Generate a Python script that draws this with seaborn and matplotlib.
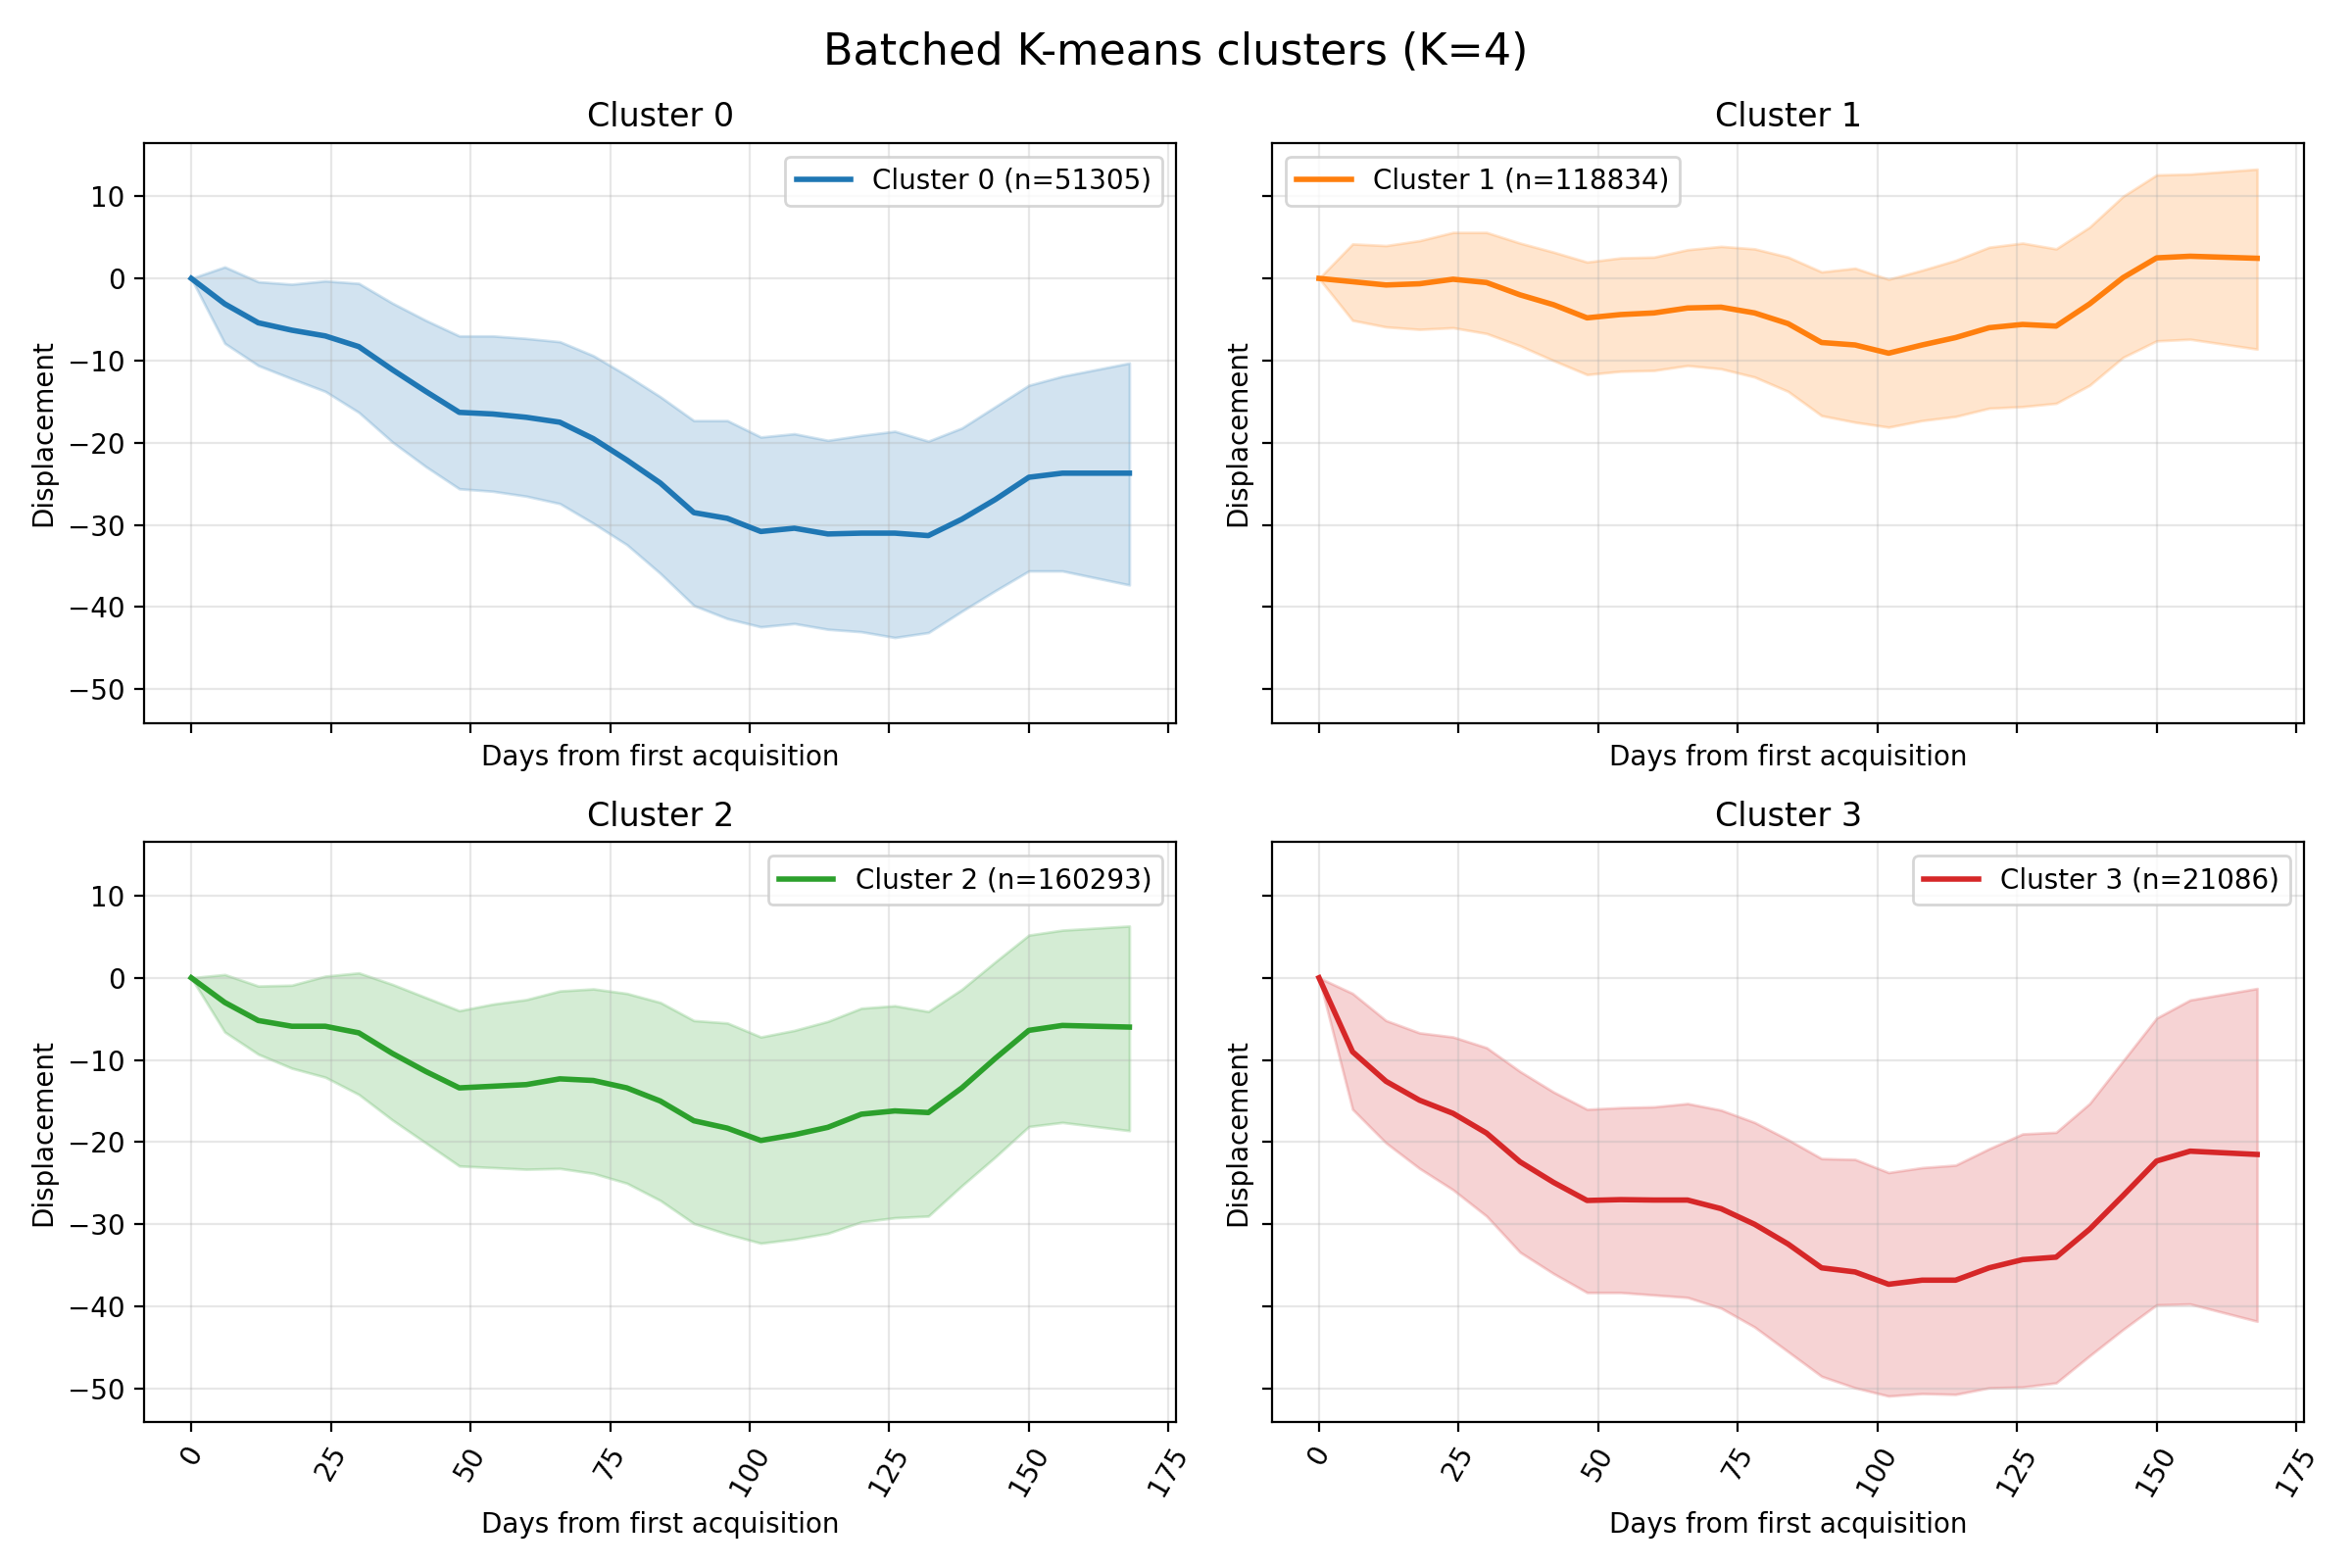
import numpy as np
import pandas as pd
import matplotlib
matplotlib.use("Agg")
import matplotlib.pyplot as plt
import seaborn as sns

days = [0, 6, 12, 18, 24, 30, 36, 42, 48, 54, 60, 66, 72, 78, 84, 90, 96, 102,
        108, 114, 120, 126, 132, 138, 144, 150, 156, 168]

cluster_names = ["Cluster 0", "Cluster 1", "Cluster 2", "Cluster 3"]
cluster_sizes = [51305, 118834, 160293, 21086]
colors = ["#1f77b4", "#ff7f0e", "#2ca02c", "#d62728"]

mean0 = [0, -3.1, -5.4, -6.3, -7.0, -8.3, -11.1, -13.75, -16.3, -16.5, -16.9, -17.5, -19.5, -22.1,
         -24.9, -28.5, -29.2, -30.8, -30.4, -31.1, -31.0, -31.0, -31.3, -29.3, -26.9, -24.2, -23.7, -23.7]
upper0 = [0, 1.4, -0.4, -0.7, -0.3, -0.6, -3.0, -5.1, -7.0, -7.0, -7.3, -7.7, -9.4, -11.8,
          -14.4, -17.3, -17.3, -19.3, -18.9, -19.7, -19.1, -18.6, -19.8, -18.2, -15.6, -13.0, -11.9, -10.3]
lower0 = [0, -7.9, -10.6, -12.2, -13.75, -16.3, -19.9, -22.9, -25.6, -25.9, -26.5, -27.4, -29.8, -32.4,
          -35.9, -39.8, -41.4, -42.4, -42.0, -42.7, -43.0, -43.7, -43.1, -40.5, -38.0, -35.6, -35.6, -37.3]

mean1 = [0, -0.4, -0.8, -0.65, -0.1, -0.5, -2.0, -3.2, -4.8, -4.4, -4.2, -3.6, -3.5, -4.2,
         -5.5, -7.8, -8.1, -9.1, -8.1, -7.2, -6.0, -5.6, -5.8, -3.1, 0.1, 2.5, 2.7, 2.45]
upper1 = [0, 4.2, 4.0, 4.6, 5.6, 5.6, 4.3, 3.2, 2.0, 2.5, 2.6, 3.5, 3.9, 3.6,
          2.6, 0.8, 1.25, -0.1, 1.0, 2.2, 3.8, 4.3, 3.6, 6.25, 10.0, 12.6, 12.7, 13.3]
lower1 = [0, -5.1, -5.9, -6.2, -6.0, -6.7, -8.2, -10.0, -11.7, -11.3, -11.2, -10.6, -11.0, -12.0,
          -13.75, -16.7, -17.5, -18.1, -17.3, -16.8, -15.8, -15.6, -15.2, -13.0, -9.6, -7.6, -7.4, -8.6]

mean2 = [0, -3.0, -5.2, -5.9, -5.9, -6.7, -9.2, -11.4, -13.4, -13.2, -13.0, -12.3, -12.5, -13.4,
         -15.0, -17.4, -18.3, -19.8, -19.1, -18.2, -16.6, -16.2, -16.4, -13.4, -9.8, -6.4, -5.8, -6.0]
upper2 = [0, 0.4, -1.0, -0.9, 0.2, 0.6, -0.8, -2.4, -4.0, -3.2, -2.65, -1.6, -1.35, -1.9,
          -3.0, -5.2, -5.5, -7.2, -6.4, -5.3, -3.7, -3.4, -4.1, -1.4, 1.95, 5.2, 5.8, 6.3]
lower2 = [0, -6.6, -9.3, -11.0, -12.1, -14.2, -17.3, -20.1, -22.9, -23.1, -23.3, -23.2, -23.8, -25.0,
          -27.1, -29.9, -31.2, -32.3, -31.8, -31.1, -29.7, -29.2, -29.0, -25.3, -21.8, -18.1, -17.6, -18.6]

mean3 = [0, -9.0, -12.6, -14.9, -16.5, -18.9, -22.4, -24.9, -27.1, -27.0, -27.05, -27.05, -28.1, -30.0,
         -32.4, -35.3, -35.8, -37.3, -36.8, -36.8, -35.3, -34.3, -34.0, -30.6, -26.5, -22.3, -21.1, -21.5]
upper3 = [0, -1.9, -5.2, -6.7, -7.2, -8.5, -11.4, -13.9, -16.0, -15.8, -15.7, -15.3, -16.1, -17.6,
          -19.7, -22.0, -22.1, -23.7, -23.1, -22.8, -20.8, -19.0, -18.8, -15.3, -10.1, -4.9, -2.7, -1.3]
lower3 = [0, -16.0, -20.1, -23.2, -25.8, -29.0, -33.4, -36.0, -38.3, -38.3, -38.6, -38.9, -40.2, -42.5,
          -45.5, -48.5, -49.9, -50.9, -50.6, -50.7, -49.9, -49.8, -49.3, -46.0, -42.8, -39.8, -39.7, -41.8]

means = [mean0, mean1, mean2, mean3]
uppers = [upper0, upper1, upper2, upper3]
lowers = [lower0, lower1, lower2, lower3]

plt.rcParams['font.family'] = ['DejaVu Sans']

fig, axes = plt.subplots(2, 2, figsize=(12, 8), dpi=200, sharex=True, sharey=True)

for i, ax in enumerate(axes.flat):
    df = pd.DataFrame({"day": days, "disp": means[i]})
    label = f"{cluster_names[i]} (n={cluster_sizes[i]})"
    sns.lineplot(data=df, x="day", y="disp", ax=ax, color=colors[i], linewidth=2, label=label)
    ax.fill_between(days, lowers[i], uppers[i], color=colors[i], alpha=0.2)
    ax.set_title(cluster_names[i], fontsize=12)
    ax.set_xlabel("Days from first acquisition")
    ax.set_ylabel("Displacement")
    ax.xaxis.label.set_visible(True)
    ax.yaxis.label.set_visible(True)
    ax.grid(True, alpha=0.3)
    ax.legend(loc="best")
    ax.tick_params(axis="x", labelrotation=60)
    ax.xaxis.set_tick_params(labelbottom=(i >= 2))

fig.suptitle("Batched K-means clusters (K=4)", fontsize=16)
fig.tight_layout()
fig.savefig("out.png", dpi=200)
